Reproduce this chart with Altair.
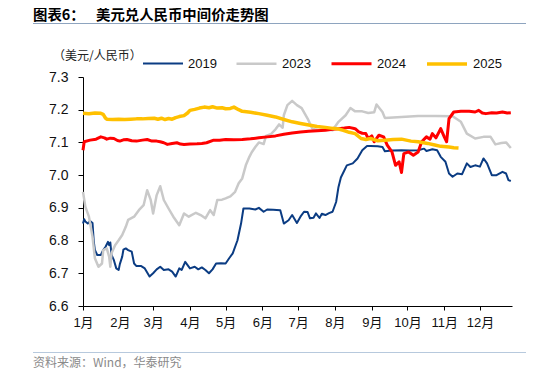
import json
import altair as alt
import pandas as pd

# ---------------- data ----------------
years = ["2019", "2023", "2024", "2025"]
colors = ["#0B3C83", "#C9C9C9", "#FF0000", "#FFC000"]
widths = [2.0, 3.5, 3.2, 3.2]

d2019 = [0, 1, 2, 4, 6, 8, 9, 10, 12, 15, 17, 19, 21, 22, 23, 24, 26, 28, 30, 31, 33, 34, 36, 38, 41, 43,
         45, 49, 52, 56, 59, 62, 65, 68, 72, 75, 78, 81, 83, 86, 90, 94, 97, 100, 103, 106, 109, 112, 116,
         120, 123, 126, 130, 133, 135, 140, 145, 148, 152, 155, 160, 166, 169, 173, 176, 180, 183, 186, 189,
         191, 194, 196, 199, 201, 204, 207, 210, 213, 215, 217, 220, 222, 227, 231, 235, 239, 242, 248, 252,
         254, 260, 268, 275, 282, 287, 289, 294, 298, 301, 305, 308, 311, 315, 319, 323, 326, 330, 334, 337,
         340, 344, 348, 353, 356, 358, 360]
v2019 = [6.852, 6.865, 6.858, 6.852, 6.860, 6.854, 6.800, 6.771, 6.756, 6.756, 6.771, 6.781, 6.796, 6.786,
         6.794, 6.756, 6.740, 6.715, 6.710, 6.728, 6.751, 6.772, 6.776, 6.771, 6.766, 6.730, 6.722, 6.722,
         6.715, 6.690, 6.700, 6.712, 6.720, 6.710, 6.712, 6.705, 6.690, 6.715, 6.710, 6.735, 6.715, 6.720,
         6.712, 6.718, 6.710, 6.700, 6.712, 6.730, 6.731, 6.730, 6.746, 6.761, 6.801, 6.852, 6.898, 6.898,
         6.895, 6.900, 6.888, 6.895, 6.894, 6.893, 6.852, 6.862, 6.878, 6.854, 6.873, 6.888, 6.887, 6.868,
         6.870, 6.883, 6.869, 6.882, 6.878, 6.884, 6.888, 6.918, 6.964, 6.993, 7.015, 7.030, 7.036, 7.051,
         7.076, 7.089, 7.089, 7.088, 7.086, 7.073, 7.075, 7.076, 7.075, 7.076, 7.081, 7.074, 7.079, 7.076,
         7.056, 7.041, 7.005, 6.995, 7.005, 7.003, 7.036, 7.025, 7.030, 7.026, 7.051, 7.036, 7.000, 7.000,
         7.010, 7.005, 6.985, 6.982]

d2023 = [0, 2, 5, 8, 10, 13, 16, 17, 20, 22, 23, 24, 27, 30, 33, 36, 38, 43, 47, 51, 54, 57, 59, 62, 65,
         68, 72, 76, 81, 85, 89, 95, 99, 103, 107, 110, 113, 117, 120, 124, 128, 131, 134, 137, 140, 142,
         145, 148, 152, 154, 158, 162, 165, 168, 169, 172, 176, 180, 184, 189, 193, 198, 204, 210, 215, 221,
         225, 229, 235, 240, 245, 247, 252, 254, 268, 282, 297, 311, 318, 323, 330, 337, 343, 347, 352, 356,
         360]
v2023 = [6.949, 6.903, 6.873, 6.812, 6.746, 6.720, 6.730, 6.771, 6.776, 6.751, 6.720, 6.761, 6.786, 6.801,
         6.817, 6.842, 6.863, 6.873, 6.893, 6.908, 6.954, 6.924, 6.883, 6.939, 6.966, 6.924, 6.898, 6.873,
         6.847, 6.883, 6.873, 6.885, 6.878, 6.868, 6.893, 6.878, 6.924, 6.925, 6.929, 6.935, 6.949, 6.975,
         6.990, 7.030, 7.056, 7.070, 7.086, 7.100, 7.095, 7.120, 7.125, 7.140, 7.155, 7.145, 7.183, 7.214,
         7.227, 7.214, 7.205, 7.173, 7.142, 7.137, 7.142, 7.137, 7.163, 7.183, 7.205, 7.195, 7.195, 7.190,
         7.192, 7.216, 7.193, 7.175, 7.178, 7.181, 7.181, 7.180, 7.163, 7.127, 7.112, 7.117, 7.117, 7.094,
         7.098, 7.100, 7.083]

d2024 = [0, 1, 6, 11, 15, 18, 20, 23, 26, 29, 31, 34, 37, 41, 45, 50, 54, 58, 62, 65, 68, 71, 75, 79, 82,
         85, 90, 96, 100, 104, 110, 115, 120, 127, 134, 141, 148, 155, 162, 169, 176, 183, 190, 197, 204,
         210, 215, 220, 224, 229, 232, 235, 238, 240, 243, 245, 249, 253, 256, 260, 263, 266, 268, 270, 274,
         278, 282, 285, 289, 292, 294, 297, 301, 304, 306, 308, 312, 318, 325, 330, 333, 336, 339, 344, 348,
         353, 357, 360]
v2024 = [7.076, 7.102, 7.107, 7.110, 7.117, 7.114, 7.110, 7.113, 7.112, 7.106, 7.104, 7.108, 7.109, 7.105,
         7.104, 7.107, 7.109, 7.104, 7.104, 7.102, 7.099, 7.094, 7.097, 7.099, 7.095, 7.094, 7.095, 7.096,
         7.097, 7.099, 7.107, 7.107, 7.109, 7.108, 7.109, 7.111, 7.114, 7.117, 7.120, 7.125, 7.129, 7.132,
         7.134, 7.136, 7.137, 7.140, 7.142, 7.144, 7.146, 7.142, 7.132, 7.128, 7.127, 7.112, 7.120, 7.102,
         7.122, 7.117, 7.092, 7.071, 7.030, 7.041, 7.008, 7.066, 7.071, 7.061, 7.071, 7.102, 7.117, 7.110,
         7.127, 7.114, 7.142, 7.117, 7.102, 7.173, 7.193, 7.195, 7.195, 7.193, 7.198, 7.190, 7.188, 7.191,
         7.190, 7.193, 7.190, 7.191]

d2025 = [0, 5, 10, 15, 17, 19, 20, 25, 30, 35, 40, 45, 50, 55, 60, 63, 66, 69, 72, 75, 78, 81, 85, 88, 90,
         94, 98, 102, 106, 109, 113, 117, 120, 124, 127, 131, 134, 141, 148, 155, 162, 169, 176, 183, 190,
         197, 204, 210, 215, 219, 224, 229, 234, 238, 242, 248, 254, 261, 268, 276, 282, 290, 296, 301, 308,
         312, 316]
v2025 = [7.189, 7.188, 7.190, 7.189, 7.186, 7.174, 7.171, 7.170, 7.171, 7.170, 7.171, 7.172, 7.172, 7.173,
         7.174, 7.171, 7.174, 7.170, 7.173, 7.171, 7.176, 7.179, 7.182, 7.190, 7.198, 7.201, 7.205, 7.208,
         7.206, 7.209, 7.205, 7.206, 7.203, 7.204, 7.208, 7.200, 7.195, 7.192, 7.188, 7.183, 7.178, 7.170,
         7.163, 7.158, 7.153, 7.149, 7.146, 7.143, 7.141, 7.137, 7.131, 7.127, 7.112, 7.109, 7.112, 7.105,
         7.107, 7.109, 7.110, 7.104, 7.102, 7.097, 7.092, 7.088, 7.086, 7.084, 7.083]

month_days = [0, 31, 59, 90, 120, 151, 181, 212, 243, 273, 304, 334]
month_labels = ["1月", "2月", "3月", "4月", "5月", "6月", "7月", "8月", "9月", "10月", "11月", "12月"]
y_ticks = [6.6, 6.7, 6.8, 6.9, 7.0, 7.1, 7.2, 7.3]

title_label = "图表6："
title_text = "美元兑人民币中间价走势图"
unit_text = "（美元/人民币）"
source_text = "资料来源：Wind，华泰研究"

# ---------------- build ----------------
frames = []
for yr, d, v in [("2019", d2019, v2019), ("2023", d2023, v2023),
                 ("2024", d2024, v2024), ("2025", d2025, v2025)]:
    frames.append(pd.DataFrame({"day": d, "value": v, "year": yr}))
df = pd.concat(frames, ignore_index=True)

LAT = "Liberation Sans, Arial, Noto Sans CJK SC"
CJK = "Noto Sans CJK SC, Liberation Sans"

label_expr = "{}[indexof({}, datum.value)]".format(
    json.dumps(month_labels, ensure_ascii=False), json.dumps(month_days))

leg = alt.Legend(orient="none", legendX=59, legendY=-35, direction="horizontal", title=None,
                 symbolType="stroke", symbolSize=1600, labelFontSize=13, labelFont=LAT,
                 labelColor="#111111", labelOffset=4, columnPadding=14, padding=0)

lines = alt.Chart(df).mark_line(strokeJoin="round").encode(
    x=alt.X("day:Q", scale=alt.Scale(domain=[0, 361], nice=False, zero=False),
            axis=alt.Axis(values=month_days, labelExpr=label_expr, title=None,
                          tickSize=4, labelPadding=6, labelFont=LAT, labelFontSize=13,
                          labelColor="#111111", labelFlush=False, labelOverlap=False)),
    y=alt.Y("value:Q", scale=alt.Scale(domain=[6.6, 7.3], nice=False, zero=False),
            axis=alt.Axis(values=y_ticks, format=".1f", title=None, tickSize=5,
                          labelPadding=10, labelFont=LAT, labelFontSize=14,
                          labelColor="#111111")),
    color=alt.Color("year:N", scale=alt.Scale(domain=years, range=colors), legend=leg),
    strokeWidth=alt.StrokeWidth("year:N", scale=alt.Scale(domain=years, range=widths), legend=leg),
)

title_a = alt.Chart(pd.DataFrame({"t": [title_label]})).mark_text(
    align="left", baseline="top", fontSize=14.4, fontWeight="bold", font=CJK, color="#000000"
).encode(x=alt.value(-50), y=alt.value(-68.5), text="t:N")

title_b = alt.Chart(pd.DataFrame({"t": [title_text]})).mark_text(
    align="left", baseline="top", fontSize=14.4, fontWeight="bold", font=CJK, color="#000000"
).encode(x=alt.value(13), y=alt.value(-68.5), text="t:N")

unit = alt.Chart(pd.DataFrame({"t": [unit_text]})).mark_text(
    align="left", baseline="middle", fontSize=12, font=CJK, color="#222222"
).encode(x=alt.value(-30), y=alt.value(-21), text="t:N")

source = alt.Chart(pd.DataFrame({"t": [source_text]})).mark_text(
    align="left", baseline="middle", fontSize=12, font=CJK, color="#8A8A8A"
).encode(x=alt.value(-50), y=alt.value(285.5), text="t:N")

top_rule = alt.Chart(pd.DataFrame({"a": [0]})).mark_rule(color="#8EA4BF", strokeWidth=1).encode(
    x=alt.value(-50), x2=alt.value(443), y=alt.value(-53.5))
bottom_rule = alt.Chart(pd.DataFrame({"a": [0]})).mark_rule(color="#B7C9DD", strokeWidth=1).encode(
    x=alt.value(-50), x2=alt.value(443), y=alt.value(275.5))

chart = alt.layer(lines, title_a, title_b, unit, source, top_rule, bottom_rule).properties(
    width=429, height=229,
    padding={"left": 75, "top": 69, "right": 14, "bottom": 64},
    autosize=alt.AutoSizeParams(type="none"),
).configure_view(stroke=None).configure_axis(
    grid=False, domainColor="#000000", tickColor="#000000", domainWidth=1, tickWidth=1
)

chart.save("out.html", embed_options={"renderer": "svg", "actions": False})
